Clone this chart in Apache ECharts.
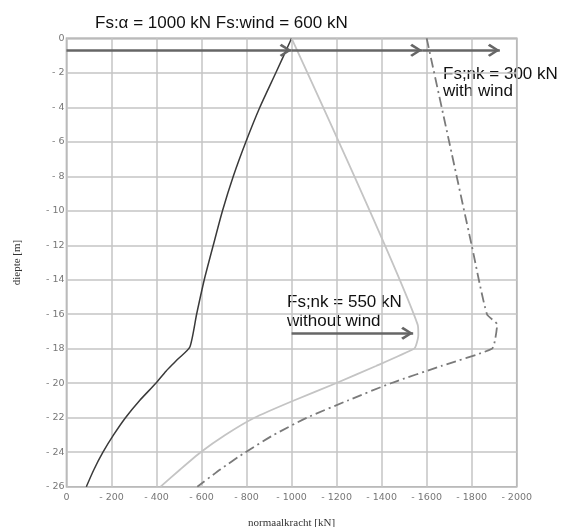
<!DOCTYPE html>
<html>
<head>
<meta charset="utf-8">
<script src="https://cdn.jsdelivr.net/npm/echarts@6/dist/echarts.min.js"></script>
<style>
  html, body { margin: 0; padding: 0; background: #fff; }
  #chart { width: 563px; height: 527px; }
</style>
</head>
<body>
<div id="chart"></div>
<script>
// depth in m (negative down), normal force in kN (negative = compression)
const darkDepth = [0, -2, -4, -6, -8, -10, -12, -14, -16, -17.9, -18.6, -19.3, -20, -21, -22, -23, -24, -25, -26]
const darkForce = [-1000, -930, -859, -797, -741, -693, -652, -612, -578, -548, -495, -442, -397, -325, -262, -209, -162, -122, -88]

const lightDepth = [0, -16.6, -17.2, -17.8, -18, -19, -20, -21, -22, -23, -24, -25, -26]
const lightForce = [-1000, -1560, -1563, -1553, -1544, -1375, -1197, -1010, -835, -705, -596, -505, -418]

const windDepth = [0, -6, -12, -16, -16.6, -17.4, -18, -19, -20, -21, -22, -23, -24, -25, -26]
const windForce = [-1600, -1700, -1800, -1868, -1913, -1905, -1890, -1665, -1441, -1250, -1068, -920, -795, -683, -581]

// arrows: [fromForce, toForce, depth]
const arrowsTop = [[0, -1000, -0.7], [-1000, -1580, -0.7], [-1580, -1925, -0.7]]
const arrowsNk = [[-1000, -1540, -17.1]]

const titleText = 'Fs:α = 1000 kN Fs:wind = 600 kN'
const withWindText = 'Fs;nk = 300 kN\nwith wind'
const withoutWindText = 'Fs;nk = 550 kN\nwithout wind'

const pairs = (xs, ys) => xs.map((x, i) => [x, ys[i]])

// open chevron pointing up, with a tiny dot above so the apex sits at the symbol centre
const chevron = 'path://M10,-19 L10.05,-19 L10,-18.95 Z M10,0 L20,16 L17,19 L10,7 L3,19 L0,16 Z'

const arrowLines = [...arrowsTop, ...arrowsNk].map(a => [
  { coord: [a[0], a[2]], symbol: 'none' },
  { coord: [a[1], a[2]], symbol: chevron }
])

const chart = echarts.init(document.getElementById('chart'), null, { renderer: 'canvas' })

const tickFmt = v => (v === 0 ? '0' : '- ' + Math.abs(v))

chart.setOption({
  animation: false,
  grid: {
    left: 66.5, top: 38.3, right: 46.3, bottom: 40.3,
    outerBoundsMode: 'none',
    show: true, borderColor: '#9a9a9a', borderWidth: 1.5
  },
  xAxis: {
    type: 'value', min: -2000, max: 0, interval: 200, inverse: true,
    name: 'normaalkracht [kN]', nameLocation: 'middle', nameGap: 31,
    nameTextStyle: { fontFamily: 'Liberation Serif', fontSize: 11, color: '#333' },
    axisLine: { show: false },
    axisTick: { show: false },
    axisLabel: { formatter: tickFmt, fontSize: 9.5, color: '#777', margin: 6, fontFamily: 'DejaVu Sans' },
    splitLine: { lineStyle: { color: '#c4c4c4', width: 1.5 } }
  },
  yAxis: {
    type: 'value', min: -26, max: 0, interval: 2,
    name: 'diepte [m]', nameLocation: 'middle', nameGap: 44, nameRotate: 90,
    nameTextStyle: { fontFamily: 'Liberation Serif', fontSize: 11, color: '#333' },
    axisLine: { show: false },
    axisTick: { show: false },
    axisLabel: { formatter: tickFmt, fontSize: 9.5, color: '#777', margin: 2, fontFamily: 'DejaVu Sans' },
    splitLine: { lineStyle: { color: '#c4c4c4', width: 1.5 } }
  },
  series: [
    {
      type: 'line', data: pairs(darkForce, darkDepth), symbol: 'none', silent: true,
      smooth: 0.2,
      lineStyle: { color: '#3a3a3a', width: 1.5 }
    },
    {
      type: 'line', data: pairs(lightForce, lightDepth), symbol: 'none', silent: true,
      smooth: 0.2,
      lineStyle: { color: '#c4c4c4', width: 1.8 }
    },
    {
      type: 'line', data: pairs(windForce, windDepth), symbol: 'none', silent: true,
      smooth: 0.2,
      lineStyle: { color: '#7a7a7a', width: 1.8, type: [10, 4, 2, 4] }
    },
    {
      type: 'line', data: [], silent: true,
      markLine: {
        silent: true, animation: false,
        symbolSize: [13, 24],
        label: { show: false },
        lineStyle: { color: '#666', width: 2.5, type: 'solid' },
        data: arrowLines
      }
    }
  ],
  graphic: [
    { type: 'text', x: 95, y: 14.5, style: { text: titleText, font: '17px "Liberation Sans"', fill: '#111' } },
    { type: 'text', x: 443, y: 66, style: { text: withWindText, font: '17px "Liberation Sans"', fill: '#111', lineHeight: 17 } },
    { type: 'text', x: 287, y: 293, style: { text: withoutWindText, font: '17px "Liberation Sans"', fill: '#111', lineHeight: 19 } }
  ]
})
</script>
</body>
</html>
